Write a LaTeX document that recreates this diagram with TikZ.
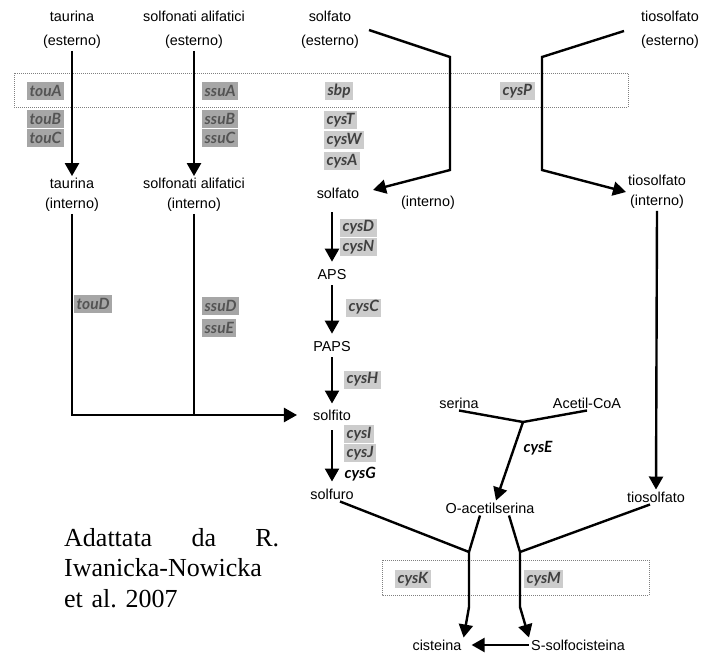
\documentclass[tikz,border=0pt]{standalone}
\usepackage{fontspec}
\usepackage{tikz}
\usetikzlibrary{arrows.meta}
\setmainfont{Liberation Serif}
\newfontfamily\labelfont{Liberation Sans}
\newfontfamily\genefont{Lato}
\definecolor{gd}{RGB}{166, 166, 166}
\definecolor{gl}{RGB}{204, 204, 204}
\definecolor{td}{RGB}{84, 84, 84}
\definecolor{tl}{RGB}{64, 64, 64}

\tikzset{
  lbl/.style={inner sep=2pt, align=center, font=\labelfont\fontsize{14.4}{20}\selectfont},
  gene/.style={anchor=west, inner xsep=2.5pt, inner ysep=1pt, minimum height=18pt,
    font=\genefont\bfseries\itshape\fontsize{15.5}{15.5}\selectfont},
  genedark/.style={gene, fill=gd, text=td},
  genelight/.style={gene, fill=gl, text=tl},
  genebare/.style={gene, text=black},
  line/.style={line width=2.4pt, line join=miter},
  arr/.style={line, -{Triangle[width=14pt,length=13pt]}},
  vchain/.style={arr, shorten <=6pt, shorten >=6pt},
  membrane/.style={draw=gray, densely dotted, line width=1pt}
}

\begin{document}
\begin{tikzpicture}
\useasboundingbox (0pt,0pt) rectangle (704pt,-653pt);
% membranes
\draw [membrane] (14pt,-73pt) rectangle (628pt,-107pt);
\draw [membrane] (382pt,-560pt) rectangle (649pt,-595pt);
% metabolites
\node (tauext) [lbl] at (72pt,-30pt) {taurina\\[4pt](esterno)};
\node (ssuext) [lbl] at (194pt,-30pt) {solfonati alifatici\\[4pt](esterno)};
\node (solfext) [lbl] at (330pt,-30pt) {solfato\\[4pt](esterno)};
\node (tioext) [lbl] at (670pt,-30pt) {tiosolfato\\[4pt](esterno)};
\node (tauint) [lbl] at (72pt,-195pt) {taurina\\(interno)};
\node (ssuint) [lbl] at (194pt,-195pt) {solfonati alifatici\\(interno)};
\node (solfint) [lbl] at (338pt,-193pt) {solfato};
\node (solfintb) [lbl] at (428pt,-203pt) {(interno)};
\node (tioint) [lbl] at (657pt,-192pt) {tiosolfato\\(interno)};
\node (aps) [lbl] at (332pt,-275pt) {APS};
\node (paps) [lbl] at (332pt,-347pt) {PAPS};
\node (solfito) [lbl] at (332pt,-415pt) {solfito};
\node (solfuro) [lbl] at (332pt,-494pt) {solfuro};
\node (serina) [lbl] at (459pt,-403pt) {serina};
\node (acetil) [lbl] at (587pt,-403pt) {Acetil-CoA};
\node (oas) [lbl] at (490pt,-508pt) {O-acetilserina};
\node (tiosolf) [lbl] at (656pt,-497pt) {tiosolfato};
\node (cist) [lbl] at (437pt,-645pt) {cisteina};
\node (ssc) [lbl] at (578pt,-645pt) {S-solfocisteina};
% genes
\node (touA) [genedark] at (27pt,-91pt) {touA};
\node (touB) [genedark] at (27pt,-119pt) {touB};
\node (touC) [genedark] at (27pt,-137.5pt) {touC};
\node (ssuA) [genedark] at (202pt,-91pt) {ssuA};
\node (ssuB) [genedark] at (202pt,-119pt) {ssuB};
\node (ssuC) [genedark] at (202pt,-137.5pt) {ssuC};
\node (sbp) [genelight] at (325pt,-91pt) {sbp};
\node (cysT) [genelight] at (324pt,-120pt) {cysT};
\node (cysW) [genelight] at (324pt,-140pt) {cysW};
\node (cysA) [genelight] at (324pt,-161pt) {cysA};
\node (cysP) [genelight] at (500pt,-91pt) {cysP};
\node (touD) [genedark] at (74pt,-303.5pt) {touD};
\node (ssuD) [genedark] at (202pt,-305.5pt) {ssuD};
\node (ssuE) [genedark] at (202pt,-328pt) {ssuE};
\node (cysD) [genelight] at (340pt,-227.5pt) {cysD};
\node (cysN) [genelight] at (340pt,-247pt) {cysN};
\node (cysC) [genelight] at (346pt,-307.5pt) {cysC};
\node (cysH) [genelight] at (344pt,-379.5pt) {cysH};
\node (cysI) [genelight] at (344pt,-434pt) {cysI};
\node (cysJ) [genelight] at (344pt,-453pt) {cysJ};
\node (cysG) [genebare] at (342pt,-474pt) {cysG};
\node (cysE) [genebare] at (521pt,-448pt) {cysE};
\node (cysK) [genelight] at (395pt,-579pt) {cysK};
\node (cysM) [genelight] at (524pt,-579pt) {cysM};
% bends
\coordinate (sA) at (369pt,-30pt);
\coordinate (sB) at (450pt,-57pt);
\coordinate (sC) at (450pt,-170pt);
\coordinate (tA) at (624pt,-31pt);
\coordinate (tB) at (542pt,-57pt);
\coordinate (tC) at (542pt,-170pt);
\coordinate (jE) at (523pt,-422pt);
\coordinate (jK) at (469pt,-552pt);
\coordinate (jM) at (520pt,-552pt);
\coordinate (kB) at (469pt,-607pt);
\coordinate (mB) at (520pt,-607pt);
% transport
\draw [arr] (tauext.south) -- (tauint.north);
\draw [arr] (ssuext.south) -- (ssuint.north);
\draw [arr, shorten >=12pt] (sA) -- (sB) -- (sC) -- (solfint.east);
\draw [arr] (tA) -- (tB) -- (tC) -- (tioint.west);
\draw [arr] (tioint.south) -- (tiosolf.north);
\draw [arr, shorten >=14pt] (tauint.south) |- (solfito.west);
\draw [line] (ssuint.south) -- (ssuint.south |- solfito.west);
% assimilation
\draw [vchain, shorten <=12pt] (aps.north |- solfint.south) -- (aps.north);
\draw [vchain, shorten <=3pt] (aps.south) -- (paps.north);
\draw [vchain, shorten <=3pt, shorten >=4pt] (paps.south) -- (solfito.north);
\draw [vchain, shorten <=8pt, shorten >=5pt] (solfito.south) -- (solfuro.north);
\draw [line] (serina.south) -- (jE);
\draw [line] (acetil.south) -- (jE);
\draw [arr] (jE) -- ([xshift=6pt]oas.north);
\draw [line] ([xshift=8pt]solfuro.south) -- (jK);
\draw [line] ([xshift=-10pt]oas.south) -- (jK);
\draw [line] ([xshift=19pt]oas.south) -- (jM);
\draw [line] ([xshift=-6pt]tiosolf.south) -- (jM);
\draw [arr] (jK) -- (kB) -- (cist.north east);
\draw [arr] (jM) -- (mB) -- (ssc.north west);
\draw [arr, shorten >=8pt] (ssc.west) -- (cist.east);
% source
\node (fonte) [anchor=north west, inner sep=0pt, text width=215pt, align=left,
  font=\fontsize{26}{30.5}\selectfont] at (64pt,-528pt)
  {Adattata\hfill da\hfill R.\\Iwanicka-Nowicka\\et al.\ 2007};
\end{tikzpicture}
\end{document}
